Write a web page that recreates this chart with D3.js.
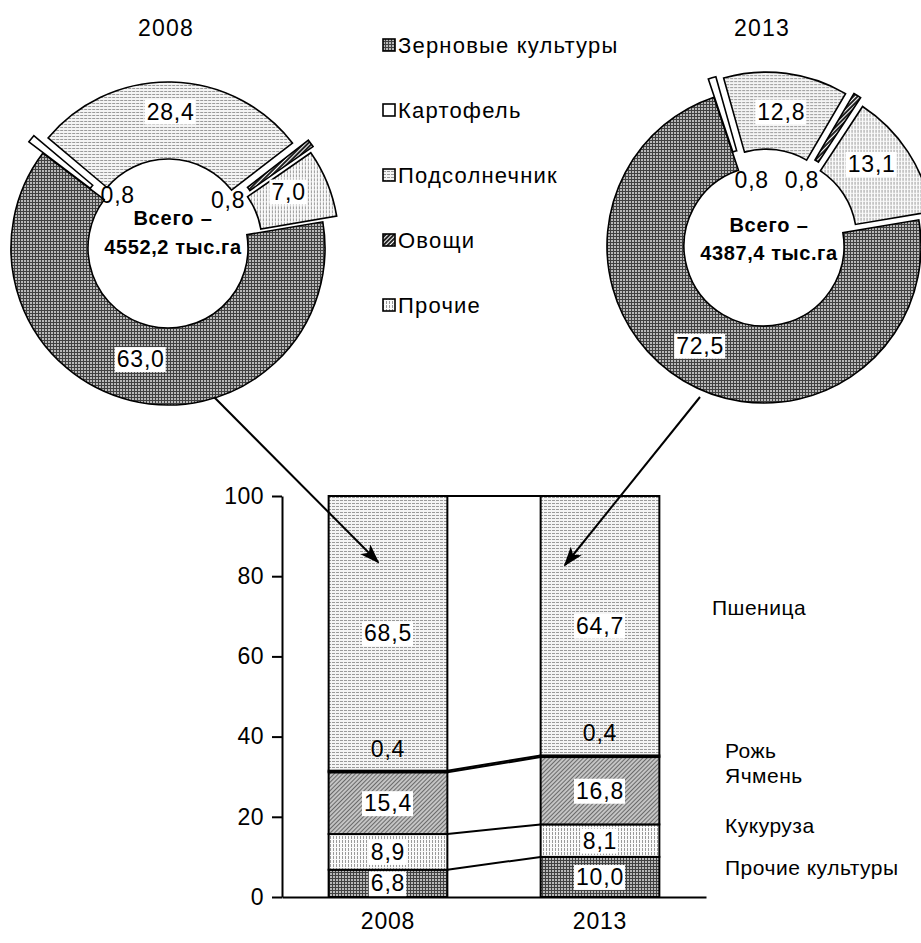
<!DOCTYPE html>
<html>
<head>
<meta charset="utf-8">
<script src="https://cdn.jsdelivr.net/npm/d3@7"></script>
<style>
  body { margin: 0; background: #fff; }
  text { font-family: "Liberation Sans", Arial, sans-serif; fill: #000; }
</style>
</head>
<body>
<svg id="chart" width="921" height="943"></svg>
<script>
// --- data ---
var pieYears = ["2008", "2013"];
var pieGroups = ["Зерновые культуры", "Картофель", "Подсолнечник", "Овощи", "Прочие"];
var pie2008 = [63.0, 0.8, 28.4, 0.8, 7.0];
var pie2013 = [72.5, 0.8, 12.8, 0.8, 13.1];
var pieTotals = ["4552,2", "4387,4"];

var barYears = ["2008", "2013"];
var crops = ["Прочие культуры", "Кукуруза", "Ячмень", "Рожь", "Пшеница"];
var bar2008 = [6.8, 8.9, 15.4, 0.4, 68.5];
var bar2013 = [10.0, 8.1, 16.8, 0.4, 64.7];
var yTicks = [0, 20, 40, 60, 80, 100];

// --- look ---
var pieFill = ["url(#grainP)", "#fff", "url(#sunP)", "url(#vegP)", "url(#otherP)"];
var cropFill = ["url(#grainP)", "url(#otherP)", "url(#barleyP)", "#000", "url(#sunP)"];
var explode = [[0, 18, 9, 20, 15], [0, 19, 17, 20, 15]];
// small label nudges so labels sit where Excel put them
var nudge = [
  [[1, -4], [6, -8], [0, -9], [2, -5], [-3, -6]],
  [[-3, -2], [9, 3], [0, 0], [0, -5], [-4, -9]]
];
// vertical place of the two lines of text in the hole
var holeText = [[-30, -1], [-21, 7]];

var svg = d3.select("#chart");
var defs = svg.append("defs");

function pat(id, w, h, bg, rot) {
  var p = defs.append("pattern").attr("id", id)
    .attr("patternUnits", "userSpaceOnUse")
    .attr("width", w).attr("height", h);
  if (rot) p.attr("patternTransform", "rotate(" + rot + ")");
  p.append("rect").attr("width", w).attr("height", h).attr("fill", bg);
  return p;
}
// dark grid
var g1 = pat("grainP", 3, 3, "#404040");
g1.append("rect").attr("width", 2).attr("height", 2).attr("fill", "#b8b8b8");
// light horizontal lines
var g2 = pat("sunP", 4, 3, "#f4f4f4");
g2.append("rect").attr("y", 2).attr("width", 3).attr("height", 1).attr("fill", "#9a9a9a");
// light vertical dots
var g3 = pat("otherP", 3, 4, "#fafafa");
g3.append("rect").attr("width", 1).attr("height", 3).attr("fill", "#9a9a9a");
// dark diagonal
var g4 = pat("vegP", 3, 3, "#fff", 45);
g4.append("rect").attr("width", 2).attr("height", 3).attr("fill", "#222");
// medium diagonal
var g5 = pat("barleyP", 3, 3, "#c4c4c4", 45);
g5.append("rect").attr("width", 1).attr("height", 3).attr("fill", "#6a6a6a");

defs.append("marker").attr("id", "arrow")
  .attr("viewBox", "0 0 20 14").attr("refX", 18).attr("refY", 7)
  .attr("markerWidth", 20).attr("markerHeight", 14)
  .attr("markerUnits", "userSpaceOnUse").attr("orient", "auto")
  .append("path").attr("d", "M0,0 L20,7 L0,14 L5,7 Z").attr("fill", "#000");

// label with white box behind
function boxLabel(g, x, y, txt, size, box) {
  var t = g.append("text").attr("x", x).attr("y", y)
    .attr("text-anchor", "middle").attr("dominant-baseline", "central")
    .attr("font-size", size).attr("letter-spacing", 0.8).text(txt);
  if (box) {
    var b = t.node().getBBox();
    g.insert("rect", function() { return t.node(); })
      .attr("x", b.x - 2).attr("y", b.y + 1).attr("width", b.width + 3).attr("height", b.height - 1)
      .attr("fill", "#fff");
  }
  return t;
}

// --- doughnuts ---
var R = 157, r0 = 80;
var rot = 80.4 * Math.PI / 180;
var centers = [[168, 248], [764, 246]];
var pieData = [pie2008, pie2013];

var arc = d3.arc().innerRadius(r0).outerRadius(R);
var pie = d3.pie().sort(null).startAngle(rot).endAngle(rot + 2 * Math.PI);

pieData.forEach(function(vals, k) {
  var g = svg.append("g").attr("transform", "translate(" + centers[k] + ")");
  var arcs = pie(vals);
  g.selectAll(".slice").data(arcs).enter().append("path")
    .attr("class", "slice")
    .attr("d", arc)
    .attr("transform", function(d, i) {
      var m = (d.startAngle + d.endAngle) / 2, e = explode[k][i];
      return "translate(" + (e * Math.sin(m)) + "," + (-e * Math.cos(m)) + ")";
    })
    .attr("fill", function(d, i) { return pieFill[i]; })
    .attr("stroke", "#000").attr("stroke-width", 1.6);

  var lg = g.append("g");
  arcs.forEach(function(d, i) {
    var m = (d.startAngle + d.endAngle) / 2;
    var small = d.value < 2;
    var rr = small ? 72 : (R + r0) / 2 + explode[k][i];
    var lx = rr * Math.sin(m) + nudge[k][i][0];
    var ly = -rr * Math.cos(m) + nudge[k][i][1];
    boxLabel(lg, lx, ly, d3.format(".1f")(d.value).replace(".", ","), 23, !small);
  });

  g.append("text").attr("x", 5).attr("y", holeText[k][0]).attr("text-anchor", "middle")
    .attr("dominant-baseline", "central").attr("font-size", 20).attr("font-weight", "bold")
    .attr("letter-spacing", 0.8).text("Всего –");
  g.append("text").attr("x", 5).attr("y", holeText[k][1]).attr("text-anchor", "middle")
    .attr("dominant-baseline", "central").attr("font-size", 20).attr("font-weight", "bold")
    .attr("letter-spacing", 0.6).text(pieTotals[k] + " тыс.га");

  svg.append("text").attr("x", centers[k][0] - 2).attr("y", 28).attr("text-anchor", "middle")
    .attr("dominant-baseline", "central").attr("font-size", 23).attr("letter-spacing", 1.2)
    .text(pieYears[k]);
});

// legend of doughnuts
var leg = svg.append("g").attr("transform", "translate(383,45)");
pieGroups.forEach(function(name, i) {
  var row = leg.append("g").attr("transform", "translate(0," + (i * 65) + ")");
  row.append("rect").attr("x", 0).attr("y", -6).attr("width", 12).attr("height", 12)
    .attr("fill", pieFill[i]).attr("stroke", "#000").attr("stroke-width", 1.6);
  row.append("text").attr("x", 15).attr("y", 0).attr("dominant-baseline", "central")
    .attr("font-size", 22).attr("letter-spacing", 1.2).text(name);
});

// --- stacked bars ---
var x = d3.scaleBand().domain(barYears).range([282, 706]).paddingInner(0.44).paddingOuter(0.22);
var y = d3.scaleLinear().domain([0, 100]).range([897, 496]);

var rows = barYears.map(function(yr, j) {
  var vals = j === 0 ? bar2008 : bar2013;
  var o = { year: yr };
  crops.forEach(function(c, i) { o[c] = vals[i]; });
  return o;
});
var stacked = d3.stack().keys(crops)(rows);

var bars = svg.append("g");
stacked.forEach(function(s, i) {
  bars.selectAll(null).data(s).enter().append("rect")
    .attr("x", function(d) { return x(d.data.year); })
    .attr("y", function(d) { return y(d[1]); })
    .attr("width", x.bandwidth())
    .attr("height", function(d) { return y(d[0]) - y(d[1]); })
    .attr("fill", cropFill[i])
    .attr("stroke", "#000").attr("stroke-width", 2);
});

// series lines between the two bars
stacked.forEach(function(s) {
  bars.append("line")
    .attr("x1", x(barYears[0]) + x.bandwidth()).attr("y1", y(s[0][1]))
    .attr("x2", x(barYears[1])).attr("y2", y(s[1][1]))
    .attr("stroke", "#000").attr("stroke-width", 2);
});

// bar labels
var bl = svg.append("g");
stacked.forEach(function(s) {
  s.forEach(function(d) {
    var cx = x(d.data.year) + x.bandwidth() / 2;
    var tiny = d.data[s.key] < 1;
    var cy = tiny ? y(d[1]) - 22 : (y(d[0]) + y(d[1])) / 2;
    boxLabel(bl, cx, cy, d3.format(".1f")(d.data[s.key]).replace(".", ","), 23, !tiny);
  });
});

// axes
var yAxis = svg.append("g").attr("transform", "translate(282,0)")
  .call(d3.axisLeft(y).tickValues(yTicks).tickSize(10).tickSizeOuter(0).tickPadding(8));
yAxis.selectAll("text").attr("font-size", 23).attr("font-family", null).attr("letter-spacing", 0.5);
yAxis.selectAll("line, path").attr("stroke", "#000").attr("stroke-width", 2);

var xAxis = svg.append("g").attr("transform", "translate(0,897)")
  .call(d3.axisBottom(x).tickSize(0).tickSizeOuter(0).tickPadding(16));
xAxis.selectAll("text").attr("font-size", 23).attr("font-family", null).attr("letter-spacing", 0.8);
xAxis.select("path").attr("stroke", "#000").attr("stroke-width", 2);

// crop names on the right
var cropLabelPos = [[725, 867], [725, 825], [725, 775], [725, 750], [712, 607]];
crops.forEach(function(c, i) {
  svg.append("text").attr("x", cropLabelPos[i][0]).attr("y", cropLabelPos[i][1])
    .attr("dominant-baseline", "central").attr("font-size", 21).attr("letter-spacing", 0.5)
    .text(c);
});

// arrows from doughnuts into the bars
var arrows = [[[214, 397], [378, 562]], [[700, 397], [565, 565]]];
arrows.forEach(function(a) {
  svg.append("line").attr("x1", a[0][0]).attr("y1", a[0][1])
    .attr("x2", a[1][0]).attr("y2", a[1][1])
    .attr("stroke", "#000").attr("stroke-width", 2).attr("marker-end", "url(#arrow)");
});
</script>
</body>
</html>
